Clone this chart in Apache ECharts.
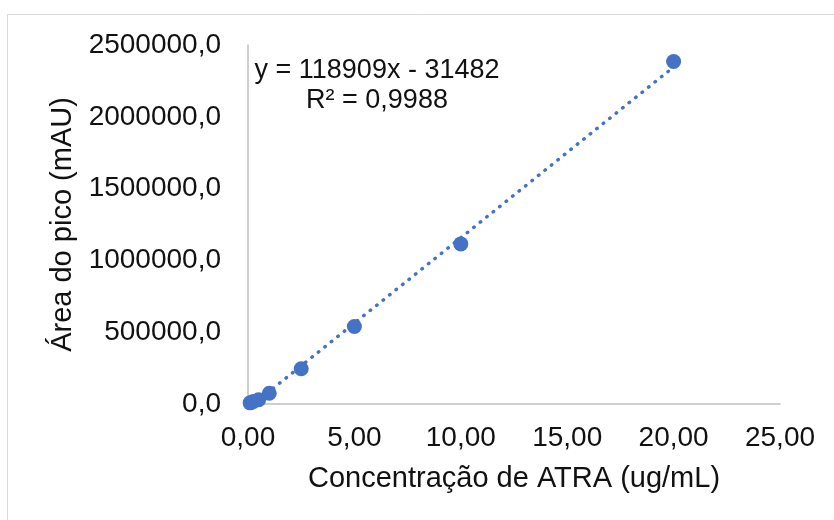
<!DOCTYPE html>
<html>
<head>
<meta charset="utf-8">
<script src="https://cdn.jsdelivr.net/npm/echarts@6/dist/echarts.min.js"></script>
<style>
  html, body { margin: 0; padding: 0; background: #fff; }
  #chart { width: 834px; height: 520px; }
</style>
</head>
<body>
<div id="chart"></div>
<script>
// Calibration points: concentration (ug/mL) vs. peak area (mAU)
const concentrations = [0.1, 0.25, 0.5, 1, 2.5, 5, 10, 20];
const peakAreas = [8000, 18000, 30000, 75000, 245000, 540000, 1115000, 2385000];

// Linear fit as reported on the chart
const slope = 118909;
const intercept = -31482;
const rSquared = '0,9988';

// Axis ticks
const xTicks = { min: 0, max: 25, interval: 5 };
const yTicks = { min: 0, max: 2500000, interval: 500000 };

const blue = '#4472C4';
const font = 'Liberation Sans, Arial, sans-serif';

const points = concentrations.map((x, i) => [x, peakAreas[i]]);

// Trend line endpoints, clipped to the visible (non-negative) range
const xMin = Math.min(...concentrations);
const xMax = Math.max(...concentrations);
const xStart = Math.max(xMin, -intercept / slope);
const trend = [[xStart, slope * xStart + intercept], [xMax, slope * xMax + intercept]];

const fmtNum = (v, d) => v.toFixed(d).replace('.', ',');

const chart = echarts.init(document.getElementById('chart'), null, { renderer: 'canvas' });
chart.setOption({
  animation: false,
  backgroundColor: '#fff',
  grid: { left: 248, right: 54, top: 45, bottom: 116, containLabel: false },
  graphic: [
    {
      type: 'rect', silent: true, z: -1,
      shape: { x: 7.5, y: 14.5, width: 900, height: 600 },
      style: { fill: 'none', stroke: '#d9d9d9', lineWidth: 1 }
    },
    {
      type: 'text', x: 377, y: 56, z: 10,
      style: {
        text: 'y = ' + slope + 'x - ' + Math.abs(intercept) + '\nR² = ' + rSquared,
        font: '27px ' + font, fill: '#111', align: 'center', verticalAlign: 'top', lineHeight: 30
      }
    }
  ],
  xAxis: {
    type: 'value', min: xTicks.min, max: xTicks.max, interval: xTicks.interval,
    name: 'Concentração de ATRA (ug/mL)', nameLocation: 'middle', nameGap: 60,
    nameTextStyle: { fontFamily: font, fontSize: 29, color: '#111' },
    axisLine: { show: true, onZero: false, lineStyle: { color: '#bfbfbf', width: 1.5 } },
    axisTick: { show: false },
    splitLine: { show: false },
    axisLabel: { fontFamily: font, fontSize: 28, color: '#111', margin: 20,
      formatter: v => fmtNum(v, 2) }
  },
  yAxis: {
    type: 'value', min: yTicks.min, max: yTicks.max, interval: yTicks.interval,
    name: 'Área do pico (mAU)', nameLocation: 'middle', nameGap: 168, nameRotate: 90,
    nameTextStyle: { fontFamily: font, fontSize: 29, color: '#111' },
    axisLine: { show: true, lineStyle: { color: '#bfbfbf', width: 1.5 } },
    axisTick: { show: false },
    splitLine: { show: false },
    axisLabel: { fontFamily: font, fontSize: 28, color: '#111', margin: 27,
      formatter: v => fmtNum(v, 1) }
  },
  series: [
    {
      type: 'line', data: trend, symbol: 'none', z: 2,
      lineStyle: { color: blue, width: 3.5, type: [0.5, 7.8], cap: 'round' }
    },
    {
      type: 'scatter', data: points, symbol: 'circle', symbolSize: 15, z: 3,
      itemStyle: { color: blue, opacity: 1 }
    }
  ]
});
</script>
</body>
</html>
